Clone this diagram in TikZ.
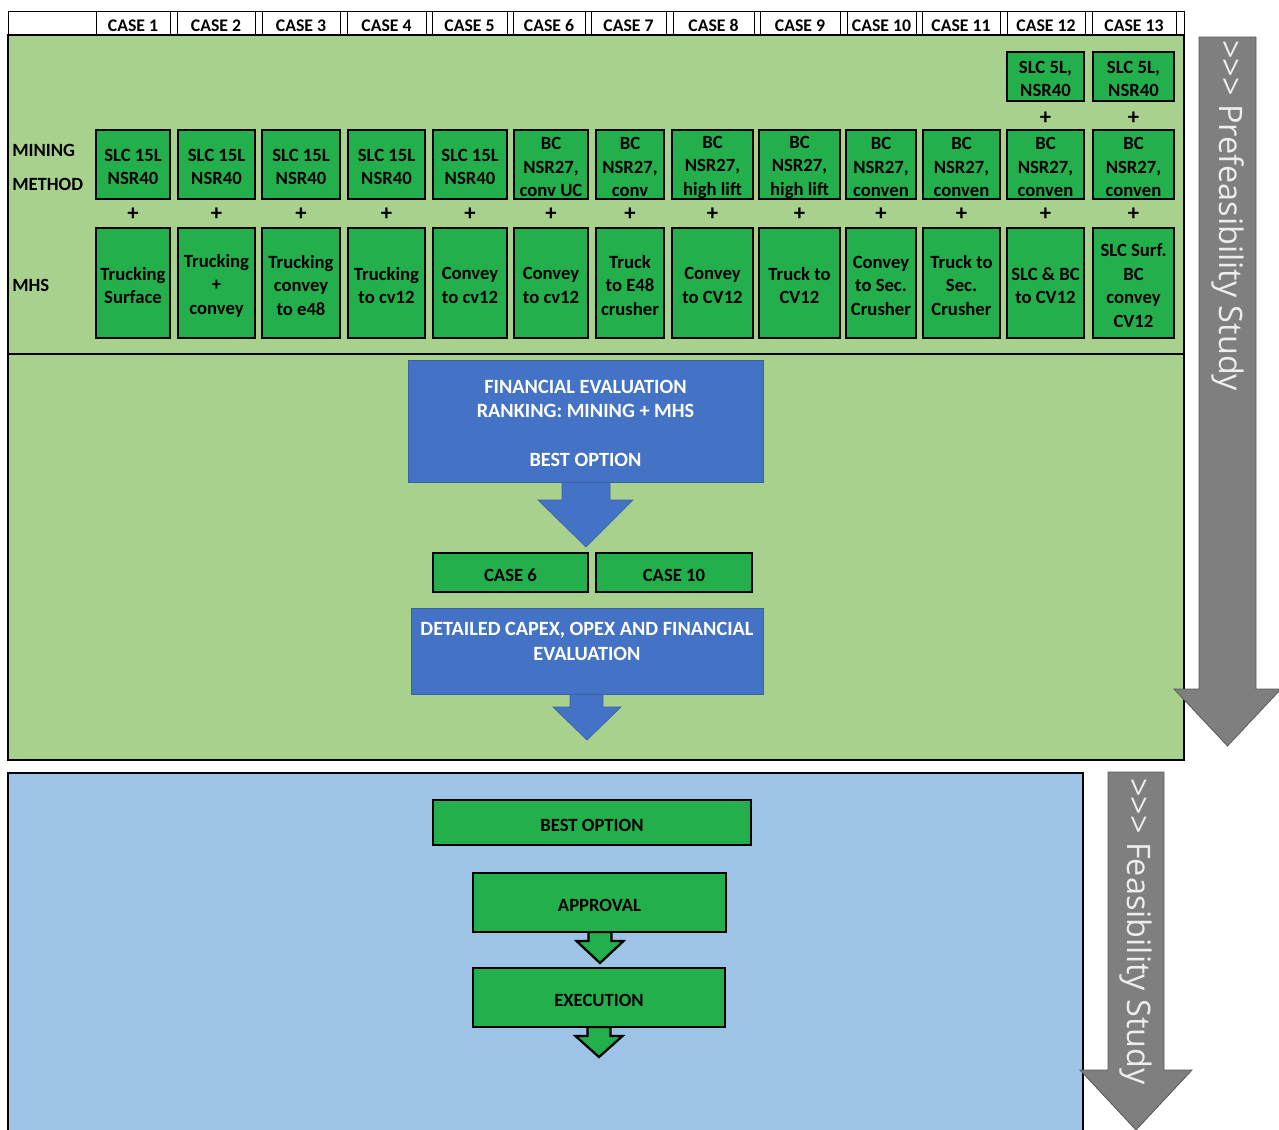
\documentclass[tikz,border=0pt]{standalone}
\usepackage{fontspec}
\setmainfont{Carlito}
\newfontfamily\arrowfont{Open Sans}
\usetikzlibrary{calc}
\definecolor{bggreen}{RGB}{169,209,142}
\definecolor{bgblue}{RGB}{157,195,230}
\definecolor{boxgreen}{RGB}{35,176,76}
\definecolor{boxblue}{RGB}{68,114,196}
\definecolor{arrowgray}{RGB}{127,127,127}
\tikzset{
  gbox/.style={draw=black, line width=1.7pt, fill=boxgreen, inner sep=0pt},
  gtxt/.style={inner sep=0pt, align=center, font=\fontsize{14}{17.6}\selectfont\bfseries},
  hcell/.style={draw=black, line width=0.6pt, fill=white, inner sep=0pt},
  htxt/.style={inner sep=0pt, font=\fontsize{13.3}{16}\selectfont\bfseries},
  bbox/.style={fill=boxblue, draw=boxblue!85!black, line width=0.5pt, inner sep=0pt},
  btxt/.style={inner sep=0pt, align=center, text=white, font=\fontsize{15.2}{18.4}\selectfont\bfseries},
  barrow/.style={fill=boxblue, draw=boxblue!85!black, line width=0.5pt},
  grarrow/.style={fill=boxgreen, draw=black, line width=1.7pt, line join=miter},
  lbl/.style={anchor=west, inner sep=0pt, font=\fontsize{14}{17}\selectfont\bfseries},
  plus/.style={inner sep=0pt, font=\fontsize{17}{19}\selectfont\bfseries},
  grayarrow/.style={fill=arrowgray, draw=black!65, line width=0.6pt},
  graytext/.style={rotate=-90, text=white!93!black, inner sep=0pt,
    font=\arrowfont\fontsize{24.3}{28}\selectfont},
}
% \mybox{box style}{text style}{name}{x1}{y1}{x2}{y2}{text}
\newcommand{\mybox}[8]{%
  \node[#1, minimum width={(#6-#4)*0.75pt}, minimum height={(#7-#5)*0.75pt}]
    (#3) at ({(#4+#6)/2},{(#5+#7)/2}) {};
  \node[#2] (#3t) at ($(#3.center)+(0,2.5)$) {#8};}
\begin{document}
\begin{tikzpicture}[x=0.75pt, y=-0.75pt]
\useasboundingbox (0,0) rectangle (1279,1129);
\clip (0,0) rectangle (1279,1129);

% ---------- header row ----------
\draw[line width=0.6pt] (8,11) rectangle (1184,35);
\foreach \n/\a/\b in {1/96/170,2/177/255,3/262/340,4/347/426,5/432/507,6/513/585,7/591/666,
  8/673/754,9/760/840,10/847/916,11/922/1000,12/1007/1085,13/1092/1176}{
  \mybox{hcell}{htxt}{h\n}{\a}{11}{\b}{35}{CASE \n}
}

% ---------- prefeasibility panel ----------
\draw[fill=bggreen, line width=1.5pt] (8,35) rectangle (1184,760);
\draw[line width=1.5pt] (8,354) -- (1184,354);

\node[lbl] (lmining) at (12,150) {MINING};
\node[lbl] (lmethod) at (12,184) {METHOD};
\node[lbl] (lmhs) at (12,285) {MHS};

% top row (cases 12, 13)
\mybox{gbox}{gtxt}{t12}{1007}{52}{1084}{101}{SLC 5L,\\NSR40}
\mybox{gbox}{gtxt}{t13}{1093}{52}{1174}{101}{SLC 5L,\\NSR40}
\node[plus] (q12) at (1045.5,118) {+};
\node[plus] (q13) at (1133.5,118) {+};

% mining method row
\foreach \n/\a/\b/\t in {
  1/96/170/{SLC 15L\\NSR40},
  2/178/255/{SLC 15L\\NSR40},
  3/262/340/{SLC 15L\\NSR40},
  4/348/425/{SLC 15L\\NSR40},
  5/433/507/{SLC 15L\\NSR40},
  6/514/588/{BC\\NSR27,\\conv UC},
  7/596/664/{BC\\NSR27,\\conv},
  8/672/753/{BC\\NSR27,\\high lift},
  9/759/840/{BC\\NSR27,\\high lift},
  10/846/916/{BC\\NSR27,\\conven},
  11/923/1000/{BC\\NSR27,\\conven},
  12/1007/1084/{BC\\NSR27,\\conven},
  13/1093/1174/{BC\\NSR27,\\conven}}{
  \mybox{gbox}{gtxt}{m\n}{\a}{130}{\b}{199}{\t}
  \node[plus] (p\n) at ({(\a+\b)/2},214) {+};
}

% MHS row
\foreach \n/\a/\b/\t in {
  1/96/170/{Trucking\\Surface},
  2/178/255/{Trucking\\+\\convey},
  3/262/340/{Trucking\\convey\\to e48},
  4/348/425/{Trucking\\to cv12},
  5/433/507/{Convey\\to cv12},
  6/514/588/{Convey\\to cv12},
  7/596/664/{Truck\\to E48\\crusher},
  8/672/753/{Convey\\to CV12},
  9/759/840/{Truck to\\CV12},
  10/846/916/{Convey\\to Sec.\\Crusher},
  11/923/1000/{Truck to\\Sec.\\Crusher},
  12/1007/1084/{SLC \& BC\\to CV12},
  13/1093/1174/{SLC Surf.\\BC\\convey\\CV12}}{
  \mybox{gbox}{gtxt}{s\n}{\a}{228}{\b}{338}{\t}
}

% evaluation flow
\draw[barrow] (562,470) -- (562,500) -- (538,500) -- (586,547) -- (633,500) -- (610,500) -- (610,470) -- cycle;
\mybox{bbox}{btxt}{fin}{408}{360}{763}{482}{FINANCIAL EVALUATION\\RANKING: MINING + MHS\\\mbox{}\\BEST OPTION}
\mybox{gbox}{gtxt}{c6}{433}{553}{588}{592}{CASE 6}
\mybox{gbox}{gtxt}{c10}{596}{553}{752}{592}{CASE 10}
\draw[barrow] (570,680) -- (570,707) -- (553,707) -- (587,740) -- (621,707) -- (603,707) -- (603,680) -- cycle;
\mybox{bbox}{btxt}{det}{411}{608}{763}{694}{DETAILED CAPEX, OPEX AND FINANCIAL\\EVALUATION\\\mbox{}}

% ---------- feasibility panel ----------
\draw[fill=bgblue, line width=1.5pt] (8,1140) -- (8,773) -- (1083,773) -- (1083,1140);

\mybox{gbox}{gtxt}{best}{433}{800}{751}{845}{BEST OPTION}
\draw[grarrow] (588.5,932) -- (588.5,941) -- (576.5,941) -- (600,963)
  -- (623.5,941) -- (611.5,941) -- (611.5,932) -- cycle;
\draw[grarrow] (587.5,1027) -- (587.5,1036) -- (575.5,1036) -- (599,1057)
  -- (622.5,1036) -- (610.5,1036) -- (610.5,1027) -- cycle;
\mybox{gbox}{gtxt}{appr}{473}{873}{726}{932}{APPROVAL}
\mybox{gbox}{gtxt}{exec}{473}{968}{725}{1027}{EXECUTION}

% ---------- grey stage arrows ----------
\draw[grayarrow] (1199,37) -- (1256,37) -- (1256,689) -- (1281,689) -- (1227.5,746)
  -- (1174,689) -- (1199,689) -- cycle;
\node[graytext, anchor=west] (pre) at (1227.5,40) {>>> Prefeasibility Study};
\draw[grayarrow] (1108,772) -- (1164,772) -- (1164,1070) -- (1192,1070) -- (1136,1130)
  -- (1080,1070) -- (1108,1070) -- cycle;
\node[graytext, anchor=west] (feas) at (1136,778) {>>> Feasibility Study};
\end{tikzpicture}
\end{document}
